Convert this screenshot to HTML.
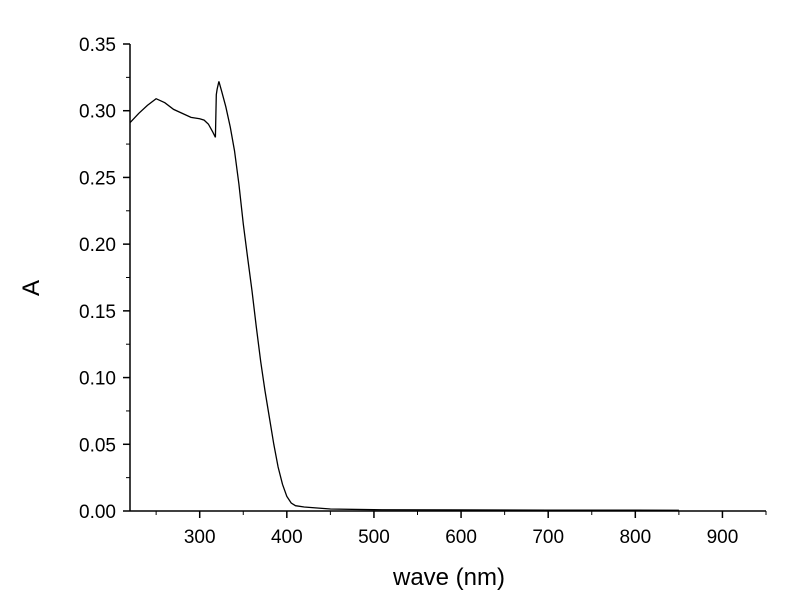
<!DOCTYPE html>
<html><head><meta charset="utf-8"><style>
body{margin:0;background:#fff}
svg{font-family:"Liberation Sans",sans-serif}
</style></head><body>
<svg id="chart" width="800" height="598" xmlns="http://www.w3.org/2000/svg"></svg>
<script>
const waves=[220,230,240,250,260,270,280,290,300,305,310,315,318,319,320,322,325,330,335,340,345,350,355,360,365,370,375,380,385,390,395,400,405,410,420,450,500,600,700,800,850];
const absorb=[0.291,0.298,0.304,0.309,0.306,0.301,0.298,0.295,0.294,0.293,0.290,0.284,0.280,0.312,0.316,0.322,0.315,0.303,0.288,0.270,0.245,0.215,0.190,0.165,0.138,0.112,0.090,0.070,0.050,0.033,0.020,0.011,0.006,0.004,0.003,0.0015,0.001,0.0008,0.0007,0.0006,0.0005];
const xTicks=[300,400,500,600,700,800,900];
const yTicks=[0,0.05,0.10,0.15,0.20,0.25,0.30,0.35];
const NS="http://www.w3.org/2000/svg",svg=document.getElementById('chart');
const x0=130,x1=766,y0=511,y1=44,xmin=220,xmax=950,ymax=0.35;
const X=v=>x0+(v-xmin)/(xmax-xmin)*(x1-x0);
const Y=v=>y0-v/ymax*(y0-y1);
function mk(t,a){const e=document.createElementNS(NS,t);for(const k in a)e.setAttribute(k,a[k]);svg.appendChild(e);return e;}
let e;
e=mk('line',{x1:x0,y1:y1,x2:x0,y2:y0,stroke:'#000','stroke-width':1.5});


e=mk('line',{x1:x0,y1:y0,x2:x1,y2:y0,stroke:'#000','stroke-width':1.5});


xTicks.forEach(v=>{
 e=mk('line',{x1:X(v),y1:y0,x2:X(v),y2:y0+7,stroke:'#000','stroke-width':1.5});
 
 
 e=mk('line',{x1:X(v-50),y1:y0,x2:X(v-50),y2:y0+4,stroke:'#000','stroke-width':1});
 
 
 e=mk('text',{x:X(v),y:y0+32,'text-anchor':'middle','font-size':19,fill:'#000'});e.textContent=v;
 
 
});
e=mk('line',{x1:x1,y1:y0,x2:x1,y2:y0+4,stroke:'#000','stroke-width':1});


yTicks.forEach((v,i)=>{
 e=mk('line',{x1:x0-7,y1:Y(v),x2:x0,y2:Y(v),stroke:'#000','stroke-width':1.5});
 
 
 if(i>0){e=mk('line',{x1:x0-4,y1:Y(v-0.025),x2:x0,y2:Y(v-0.025),stroke:'#000','stroke-width':1});
 
 }
 e=mk('text',{x:x0-14,y:Y(v)+7,'text-anchor':'end','font-size':19,fill:'#000'});e.textContent=v.toFixed(2);
 
 
});
e=mk('path',{d:waves.map((w,i)=>(i?'L':'M')+X(w).toFixed(1)+','+Y(absorb[i]).toFixed(1)).join(''),fill:'none',stroke:'#000','stroke-width':1.3});


e=mk('text',{x:449,y:585,'text-anchor':'middle','font-size':24,fill:'#000'});e.textContent='wave (nm)';


e=mk('text',{x:39,y:288,'text-anchor':'middle','font-size':24,fill:'#000',transform:'rotate(-90 39 288)'});e.textContent='A';


</script>
</body></html>
